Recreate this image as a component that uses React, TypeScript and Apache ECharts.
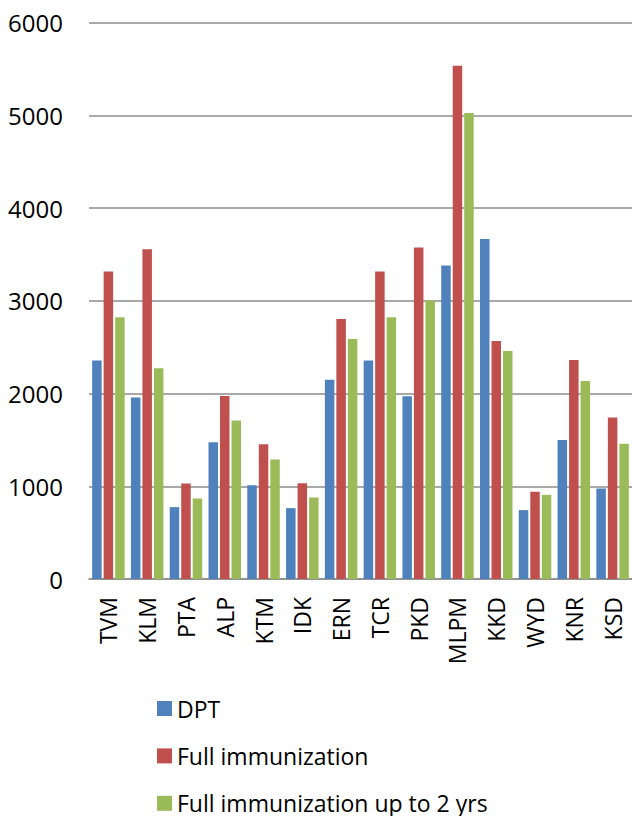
import React, { useEffect, useRef } from "react";
import * as echarts from "echarts";

const categories = ["TVM", "KLM", "PTA", "ALP", "KTM", "IDK", "ERN", "TCR", "PKD", "MLPM", "KKD", "WYD", "KNR", "KSD"];
const dpt = [2355, 1956, 775, 1475, 1012, 764, 2149, 2355, 1970, 3380, 3667, 743, 1500, 976];
const fullImmunization = [3315, 3555, 1030, 1973, 1453, 1033, 2802, 3315, 3574, 5533, 2565, 940, 2362, 1741];
const fullUpTo2 = [2823, 2271, 868, 1708, 1288, 879, 2587, 2823, 3003, 5024, 2458, 907, 2135, 1457];
const yTicks = [0, 1000, 2000, 3000, 4000, 5000, 6000];

const FONT = "'Open Sans', sans-serif";

export default function App() {
  const ref = useRef<HTMLDivElement>(null);
  useEffect(() => {
    if (!ref.current) return;
    const chart = echarts.init(ref.current, null, { renderer: "svg" });
    const barCommon = { type: "bar", barWidth: 9.5, barGap: "21%" };
    chart.setOption({
      animation: false,
      grid: { left: 89, right: -3, top: 22.5, bottom: 237, containLabel: false },
      legend: {
        orient: "vertical",
        left: 157,
        top: 696.5,
        padding: 0,
        height: 119,
        itemWidth: 15,
        itemHeight: 15,
        itemGap: 23.4,
        icon: "rect",
        textStyle: { fontFamily: FONT, fontSize: 23, color: "#000", lineHeight: 24 },
        data: ["DPT", "Full immunization", "Full immunization up to 2 yrs"],
      },
      xAxis: {
        type: "category",
        data: categories,
        axisLine: { show: true, lineStyle: { color: "#8c8c8c", width: 1.5 } },
        axisTick: { show: false },
        axisLabel: {
          rotate: 90,
          margin: 18,
          fontFamily: FONT,
          fontSize: 23,
          color: "#000",
          padding: [0, 0, 10, 0],
          interval: 0,
        },
      },
      yAxis: {
        type: "value",
        min: yTicks[0],
        max: yTicks[yTicks.length - 1],
        interval: 1000,
        axisLine: { show: false },
        axisTick: { show: false },
        splitLine: { lineStyle: { color: "#8c8c8c", width: 1.5 } },
        axisLabel: { fontFamily: FONT, fontSize: 24, color: "#000", margin: 26, formatter: (v: number) => String(v) },
      },
      series: [
        { ...barCommon, name: "DPT", data: dpt, itemStyle: { color: "#4F81BD" } },
        { ...barCommon, name: "Full immunization", data: fullImmunization, itemStyle: { color: "#C0504D" } },
        { ...barCommon, name: "Full immunization up to 2 yrs", data: fullUpTo2, itemStyle: { color: "#9BBB59" } },
      ],
    });
    return () => chart.dispose();
  }, []);
  return <div ref={ref} style={{ position: "absolute", left: 0, top: 0, width: 632, height: 816 }} />;
}
